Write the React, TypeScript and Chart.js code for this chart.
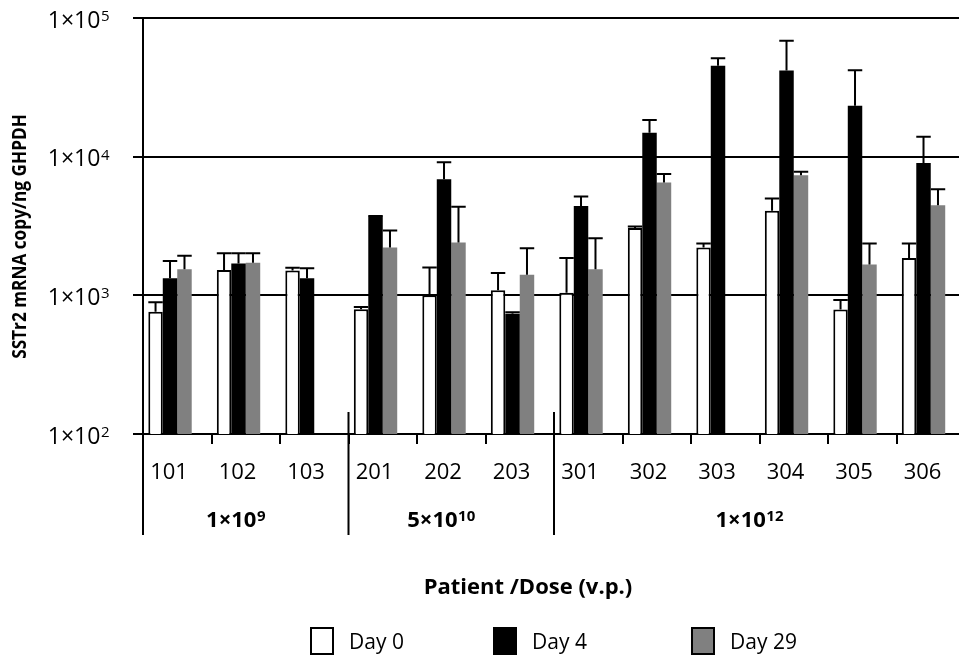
import React, { useEffect, useRef } from 'react';
import { Chart, registerables } from 'chart.js';

Chart.register(...registerables);

// ---------------- data ----------------
const categories = ['101', '102', '103', '201', '202', '203', '301', '302', '303', '304', '305', '306'];
const seriesLabels = ['Day 0', 'Day 4', 'Day 29'];

const day0 = [760, 1520, 1510, 795, 1000, 1090, 1045, 3060, 2210, 4080, 790, 1860];
const day0Err = [130, 490, 70, 30, 590, 360, 815, 75, 150, 910, 135, 500];

const day4 = [1330, 1700, 1330, 3710, 6860, 735, 4400, 14900, 45200, 41800, 23300, 9000];
const day4Err = [440, 310, 240, 20, 2260, 20, 760, 3500, 6100, 26600, 18700, 4900];

const day29 = [1540, 1720, null, 2210, 2400, 1410, 1540, 6520, null, 7350, 1670, 4470];
const day29Err = [390, 290, null, 720, 1960, 780, 1040, 990, null, 420, 690, 1350];

// empty fourth slot in each category (as in the original layout)
const spacer = [null, null, null, null, null, null, null, null, null, null, null, null];

const yTicks = [100, 1000, 10000, 100000];
const yTickBase = '1×10';
const yTickExponents = ['2', '3', '4', '5'];

const groupBases = ['1×10', '5×10', '1×10'];
const groupExponents = ['9', '10', '12'];
const groupSizes = [3, 3, 6];

const xTitle = 'Patient /Dose (v.p.)';
const yTitle = 'SSTr2 mRNA copy/ng GHPDH';

// ---------------- styles ----------------
const FONT = '"Open Sans", "Noto Sans", sans-serif';
const seriesFill = ['#ffffff', '#000000', '#808080'];
const seriesBorder = [2, 0, 0];
const legendX = [310, 493, 691];

const errorSets = [day0Err, day4Err, day29Err];

const overlay = {
  id: 'overlay',
  afterDatasetsDraw(chart: any) {
    const ctx = chart.ctx;
    const ys = chart.scales.y;
    ctx.save();
    ctx.strokeStyle = '#000';
    ctx.lineWidth = 2;
    errorSets.forEach((errs, di) => {
      const meta = chart.getDatasetMeta(di);
      const vals = chart.data.datasets[di].data;
      meta.data.forEach((el: any, i: number) => {
        const v = vals[i];
        const e = errs[i];
        if (v == null || e == null) return;
        const top = ys.getPixelForValue(v);
        const cap = ys.getPixelForValue(v + e);
        const half = el.width / 2;
        ctx.beginPath();
        ctx.moveTo(el.x, top);
        ctx.lineTo(el.x, cap);
        ctx.moveTo(el.x - half, cap);
        ctx.lineTo(el.x + half, cap);
        ctx.stroke();
      });
    });
    ctx.restore();
  },
  afterDraw(chart: any) {
    const ctx = chart.ctx;
    const area = chart.chartArea;
    const ys = chart.scales.y;
    const mid = chart.getDatasetMeta(1);
    const catW = (area.right - area.left) / categories.length;
    ctx.save();
    ctx.fillStyle = '#000';
    ctx.strokeStyle = '#000';

    // y tick labels with superscripts
    yTicks.forEach((v, i) => {
      const py = ys.getPixelForValue(v);
      ctx.font = `23px ${FONT}`;
      const bw = ctx.measureText(yTickBase).width;
      ctx.font = `15px ${FONT}`;
      const sw = ctx.measureText(yTickExponents[i]).width;
      const x0 = area.left - 34 - bw - sw;
      ctx.textAlign = 'left';
      ctx.textBaseline = 'alphabetic';
      ctx.font = `23px ${FONT}`;
      ctx.fillText(yTickBase, x0, py + 9.5);
      ctx.font = `15px ${FONT}`;
      ctx.fillText(yTickExponents[i], x0 + bw + 0.5, py + 3);
    });

    // category labels
    ctx.font = `22px ${FONT}`;
    ctx.textAlign = 'center';
    categories.forEach((c, i) => {
      ctx.fillText(c, mid.data[i].x - 1, area.bottom + 45);
    });

    // separators and axis extension
    ctx.lineWidth = 2;
    ctx.beginPath();
    ctx.moveTo(area.left, area.bottom);
    ctx.lineTo(area.left, area.bottom + 101);
    let acc = 0;
    groupSizes.forEach((n, g) => {
      acc += n;
      if (g < groupSizes.length - 1) {
        const bx = area.left + acc * catW;
        ctx.moveTo(bx, area.bottom - 22);
        ctx.lineTo(bx, area.bottom + 101);
      }
    });
    ctx.stroke();

    // group (dose) labels
    let start = 0;
    groupSizes.forEach((n, g) => {
      let sum = 0;
      for (let k = start; k < start + n; k++) sum += mid.data[k].x;
      const cx = sum / n - 3;
      start += n;
      ctx.font = `bold 22px ${FONT}`;
      const bw = ctx.measureText(groupBases[g]).width;
      ctx.font = `bold 15px ${FONT}`;
      const sw = ctx.measureText(groupExponents[g]).width;
      const x0 = cx - (bw + sw) / 2;
      ctx.textAlign = 'left';
      ctx.font = `bold 22px ${FONT}`;
      ctx.fillText(groupBases[g], x0, area.bottom + 93);
      ctx.font = `bold 15px ${FONT}`;
      ctx.fillText(groupExponents[g], x0 + bw + 0.5, area.bottom + 86.5);
    });

    // x title
    ctx.textAlign = 'center';
    ctx.font = `bold 22px ${FONT}`;
    ctx.fillText(xTitle, 528, 593.5);

    // y title (slightly condensed to mimic the narrow original face)
    ctx.save();
    ctx.translate(26, 236.5);
    ctx.rotate(-Math.PI / 2);
    ctx.scale(0.86, 1);
    ctx.font = `bold 20px ${FONT}`;
    ctx.textAlign = 'center';
    ctx.fillText(yTitle, 0, 0);
    ctx.restore();

    // legend
    ctx.textAlign = 'left';
    ctx.font = `21px ${FONT}`;
    chart.data.datasets.slice(0, 3).forEach((ds: any, i: number) => {
      const bx = legendX[i];
      ctx.fillStyle = ds.backgroundColor;
      ctx.fillRect(bx, 627, 24, 28);
      ctx.lineWidth = 2;
      ctx.strokeStyle = '#000';
      ctx.strokeRect(bx + 1, 628, 22, 26);
      ctx.fillStyle = '#000';
      ctx.fillText(ds.label, bx + 39, 648.5);
    });

    ctx.restore();
  },
};

export default function App() {
  const ref = useRef<HTMLCanvasElement | null>(null);

  useEffect(() => {
    if (!ref.current) return;
    const datasets: any[] = [day0, day4, day29].map((d, i) => ({
      label: seriesLabels[i],
      data: d,
      backgroundColor: seriesFill[i],
      borderColor: '#000',
      borderWidth: seriesBorder[i],
      categoryPercentage: 0.845,
      barPercentage: 1,
    }));
    datasets.push({
      label: '',
      data: spacer,
      backgroundColor: 'rgba(0,0,0,0)',
      categoryPercentage: 0.845,
      barPercentage: 1,
    });
    const chart = new Chart(ref.current, {
      type: 'bar',
      data: { labels: categories, datasets },
      options: {
        responsive: false,
        animation: false,
        devicePixelRatio: 1,
        layout: { padding: { left: 133, top: 18, right: 7, bottom: 215 } },
        plugins: { legend: { display: false }, tooltip: { enabled: false } },
        scales: {
          x: {
            type: 'category',
            offset: true,
            ticks: { display: false },
            grid: {
              offset: true,
              drawOnChartArea: false,
              drawTicks: true,
              tickLength: 10,
              color: '#000',
              lineWidth: 2,
            },
            border: { display: true, color: '#000', width: 2 },
          },
          y: {
            type: 'logarithmic',
            min: 100,
            max: 100000,
            afterBuildTicks: (scale: any) => {
              scale.ticks = yTicks.map((v) => ({ value: v }));
            },
            ticks: { display: false },
            grid: {
              drawTicks: true,
              tickLength: 10,
              color: '#000',
              lineWidth: 2,
            },
            border: { display: true, color: '#000', width: 2 },
          },
        },
      } as any,
      plugins: [overlay],
    });
    return () => chart.destroy();
  }, []);

  return (
    <div
      style={{
        position: 'fixed',
        left: 0,
        top: 0,
        width: 959,
        height: 659,
        overflow: 'hidden',
        background: '#fff',
      }}
    >
      <canvas ref={ref} width={972} height={659} style={{ display: 'block' }} />
    </div>
  );
}
